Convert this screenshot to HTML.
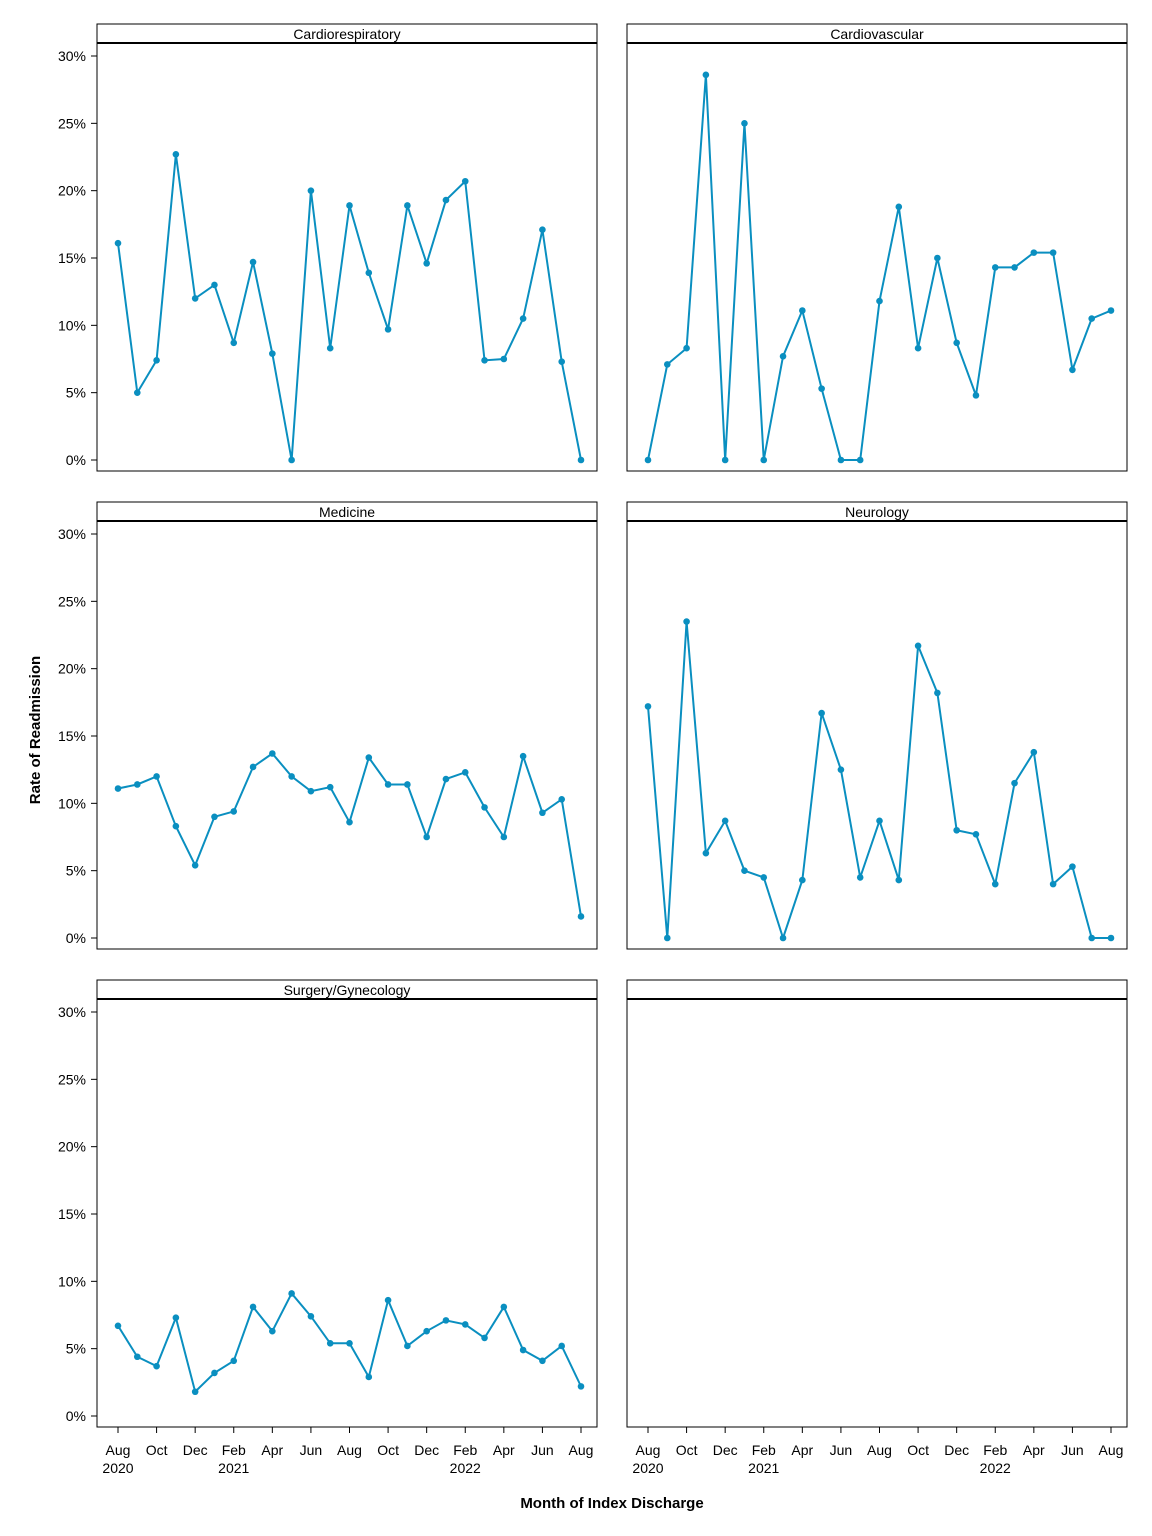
<!DOCTYPE html>
<html><head><meta charset="utf-8"><style>
body{margin:0;background:#fff}
svg{display:block;font-family:"Liberation Sans",sans-serif}
</style></head><body>
<svg id="c" width="1152" height="1536" xmlns="http://www.w3.org/2000/svg">
<text x="40" y="730" transform="rotate(-90 40 730)" text-anchor="middle" font-size="15" font-weight="bold">Rate of Readmission</text>
<text x="612" y="1508" text-anchor="middle" font-size="15" font-weight="bold">Month of Index Discharge</text>
</svg>
<script>
const months=["Aug","Sep","Oct","Nov","Dec","Jan","Feb","Mar","Apr","May","Jun","Jul","Aug","Sep","Oct","Nov","Dec","Jan","Feb","Mar","Apr","May","Jun","Jul","Aug"];
const panelNames=["Cardiorespiratory","Cardiovascular","Medicine","Neurology","Surgery/Gynecology",""];
const cardioresp=[16.1,5.0,7.4,22.7,12.0,13.0,8.7,14.7,7.9,0,20.0,8.3,18.9,13.9,9.7,18.9,14.6,19.3,20.7,7.4,7.5,10.5,17.1,7.3,0];
const cardiovasc=[0,7.1,8.3,28.6,0,25.0,0,7.7,11.1,5.3,0,0,11.8,18.8,8.3,15.0,8.7,4.8,14.3,14.3,15.4,15.4,6.7,10.5,11.1];
const medicine=[11.1,11.4,12.0,8.3,5.4,9.0,9.4,12.7,13.7,12.0,10.9,11.2,8.6,13.4,11.4,11.4,7.5,11.8,12.3,9.7,7.5,13.5,9.3,10.3,1.6];
const neurology=[17.2,0,23.5,6.3,8.7,5.0,4.5,0,4.3,16.7,12.5,4.5,8.7,4.3,21.7,18.2,8.0,7.7,4.0,11.5,13.8,4.0,5.3,0,0];
const surgery=[6.7,4.4,3.7,7.3,1.8,3.2,4.1,8.1,6.3,9.1,7.4,5.4,5.4,2.9,8.6,5.2,6.3,7.1,6.8,5.8,8.1,4.9,4.1,5.2,2.2];
const yTicks=[0,5,10,15,20,25,30];
const xTickLabels=["Aug","Oct","Dec","Feb","Apr","Jun","Aug","Oct","Dec","Feb","Apr","Jun","Aug"];
const yearLabels={0:"2020",6:"2021",18:"2022"};
const series=[cardioresp,cardiovasc,medicine,neurology,surgery,null];
const svg=document.getElementById('c');const NS="http://www.w3.org/2000/svg";
function mk(t,a,p){const e=document.createElementNS(NS,t);for(const k in a)e.setAttribute(k,a[k]);(p||svg).appendChild(e);return e;}
const colX=[97,627],rowY=[24,502,980];
for(let i=0;i<6;i++){
 const px=colX[i%2],top=rowY[Math.floor(i/2)];
 const g=mk('g',{});
 
 
 const x=k=>px+21+k*(463/24);
 const y=v=>top+436-v*(404/30);
 mk('rect',{x:px,y:top,width:500,height:447,fill:'none',stroke:'#000','stroke-width':1},g);
 mk('line',{x1:px,x2:px+500,y1:top+19,y2:top+19,stroke:'#000','stroke-width':2},g);
 const h=mk('text',{x:px+250,y:top+15,'text-anchor':'middle','font-size':14},g);h.textContent=panelNames[i];
 
 
 if(i%2==0){yTicks.forEach(t=>{mk('line',{x1:px-6,x2:px,y1:y(t),y2:y(t),stroke:'#000'},g);const tl=mk('text',{x:px-11,y:y(t)+5,'text-anchor':'end','font-size':14},g);tl.textContent=t+'%';
 
 });}
 if(i>=4){xTickLabels.forEach((m,j)=>{const k=j*2;mk('line',{x1:x(k),x2:x(k),y1:top+447,y2:top+453,stroke:'#000'},g);const tl=mk('text',{x:x(k),y:top+475,'text-anchor':'middle','font-size':14},g);tl.textContent=m;
 
 
 if(yearLabels[k]){const yl=mk('text',{x:x(k),y:top+493,'text-anchor':'middle','font-size':14},g);yl.textContent=yearLabels[k];
 
 }});}
 const d=series[i];if(!d)continue;
 const ln=mk('polyline',{points:d.map((v,k)=>x(k)+','+y(v)).join(' '),fill:'none',stroke:'#0a8fc0','stroke-width':2},g);
 
 
 d.forEach((v,k)=>{const c=mk('circle',{cx:x(k),cy:y(v),r:3.3,fill:'#0a8fc0'},g);
 
 });
}
</script>
</body></html>
